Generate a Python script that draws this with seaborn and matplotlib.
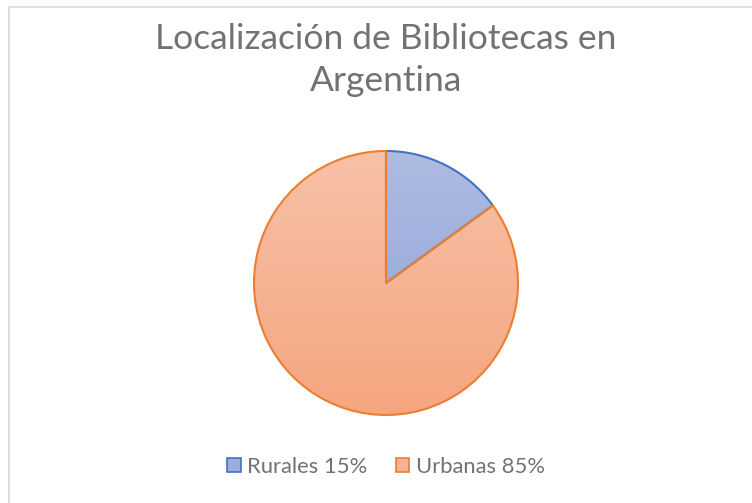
import numpy as np
import matplotlib
matplotlib.use("Agg")
import matplotlib.pyplot as plt
import seaborn as sns
from matplotlib.colors import LinearSegmentedColormap
from matplotlib.patches import Rectangle

labels = ["Rurales 15%", "Urbanas 85%"]
values = [15, 85]
title = "Localización de Bibliotecas en\nArgentina"

edge_colors = ["#4472C4", "#ED7D31"]
grad_top = ["#AEBBE2", "#F7C1A6"]
grad_bottom = ["#8DA2D6", "#F5A680"]

sns.set_theme(style="white")
plt.rcParams["font.family"] = ["Lato", "DejaVu Sans"]

W, H = 752, 503
fig = plt.figure(figsize=(W / 100, H / 100), dpi=100)
fig.patch.set_facecolor("white")

# chart area frame (only top/left edges visible)
fig.patches.append(Rectangle((8.5 / W, -0.1), 1.2, 1.1 - 6.5 / H, transform=fig.transFigure,
                             fill=False, edgecolor="#D9D9D9", lw=1.2))

cx, cy, r = 386, 283, 132
ra = r * 1.02
ax = fig.add_axes([(cx - ra) / W, (H - cy - ra) / H, 2 * ra / W, 2 * ra / H])
ax.set_aspect("equal")
ax.axis("off")

mid = [sns.blend_palette([t, b], 3)[1] for t, b in zip(grad_top, grad_bottom)]
wedges, _ = ax.pie(values, radius=1, startangle=90, counterclock=False,
                   colors=mid, wedgeprops=dict(linewidth=0))

# vertical gradient fill, clipped to each wedge
grad = np.linspace(0, 1, 256).reshape(-1, 1)
for w, t, b in zip(wedges, grad_top, grad_bottom):
    cmap = LinearSegmentedColormap.from_list("g", [t, b])
    im = ax.imshow(grad, cmap=cmap, extent=[-1, 1, -1, 1], origin="upper",
                   aspect="auto", zorder=2)
    im.set_clip_path(w)

outline, _ = ax.pie(values, radius=1, startangle=90, counterclock=False,
                    wedgeprops=dict(fill=False, linewidth=1.5))
for w, c in zip(outline, edge_colors):
    w.set_edgecolor(c)
    w.set_zorder(3)
outline[1].set_zorder(4)

ax.set_xlim(-1.02, 1.02)
ax.set_ylim(-1.02, 1.02)

fig.text(cx / W, 1 - 60 / H, title, ha="center", va="center", fontsize=25.5,
         color="#727272", linespacing=1.35)

handles = [Rectangle((0, 0), 1, 1, facecolor=m, edgecolor=e, lw=1.2)
           for m, e in zip(mid, edge_colors)]
fig.legend(handles, labels, loc="center", bbox_to_anchor=(cx / W, 1 - 467 / H),
           ncol=2, frameon=False, labelcolor="#727272", prop=dict(size=15.8),
           handlelength=0.62, handleheight=0.62, handletextpad=0.3, columnspacing=1.3)

fig.savefig("out.png", dpi=100)
